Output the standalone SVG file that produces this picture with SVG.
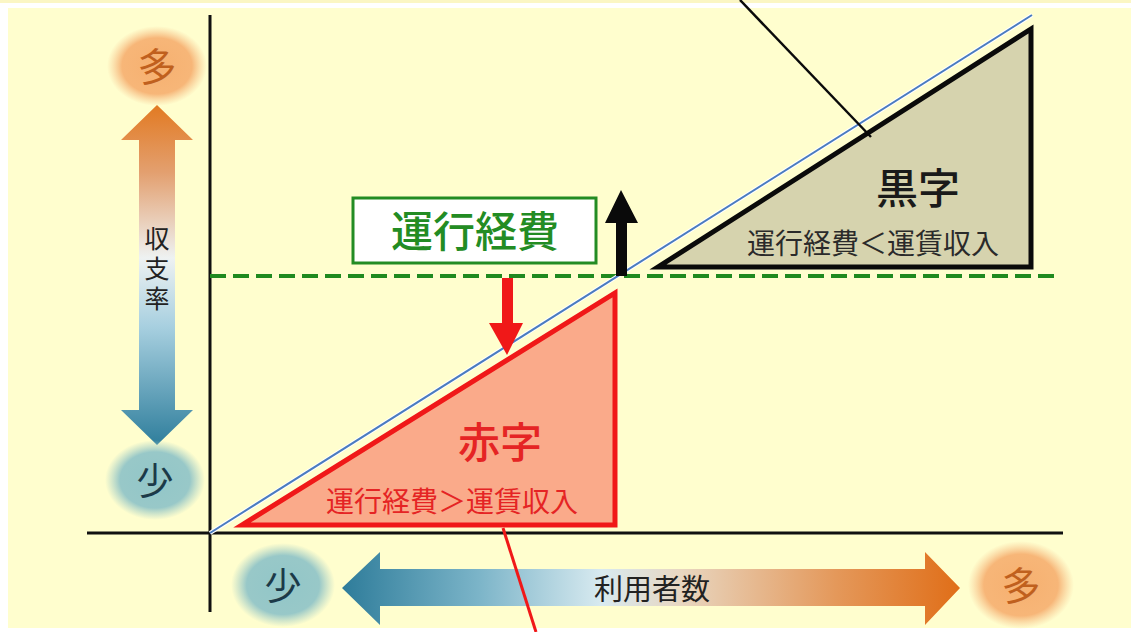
<svg xmlns="http://www.w3.org/2000/svg" width="1131" height="632" viewBox="0 0 1131 632">
<defs>
<style>
.jp{font-family:"Noto Sans CJK JP","Noto Sans CJK SC",sans-serif;font-weight:500;}
.sm{font-weight:400;}
.axis{stroke:#111;stroke-width:3;fill:none;}
</style>
<linearGradient id="gv" x1="0" y1="105" x2="0" y2="445" gradientUnits="userSpaceOnUse">
<stop offset="0" stop-color="#E27A22"/>
<stop offset="0.2" stop-color="#E3A070"/>
<stop offset="0.45" stop-color="#EEF2F2"/>
<stop offset="0.65" stop-color="#A8D0E0"/>
<stop offset="1" stop-color="#2F7E9C"/>
</linearGradient>
<linearGradient id="gh" x1="342" y1="0" x2="960" y2="0" gradientUnits="userSpaceOnUse">
<stop offset="0" stop-color="#2E7C9A"/>
<stop offset="0.22" stop-color="#7BB4C8"/>
<stop offset="0.42" stop-color="#D8EAF0"/>
<stop offset="0.55" stop-color="#E8D6C0"/>
<stop offset="0.8" stop-color="#E4985A"/>
<stop offset="1" stop-color="#E06E18"/>
</linearGradient>
<radialGradient id="go">
<stop offset="0" stop-color="#F6B070"/>
<stop offset="0.7" stop-color="#F7B678"/>
<stop offset="1" stop-color="#F7C490" stop-opacity="0"/>
</radialGradient>
<radialGradient id="gb">
<stop offset="0" stop-color="#92C6C8"/>
<stop offset="0.7" stop-color="#98C8C8"/>
<stop offset="1" stop-color="#A8D0C8" stop-opacity="0"/>
</radialGradient>
</defs>
<rect width="1131" height="632" fill="#FFFFFF"/>
<rect x="0" y="0" width="1131" height="3" fill="#FBF6C4"/>
<rect x="8" y="8" width="1123" height="620" fill="#FFFECE"/>

<g id="axes">
<line class="axis" x1="210" y1="15" x2="210" y2="612"/>
<line class="axis" x1="87" y1="533" x2="1063" y2="533"/>
</g>

<g id="y-arrow">
<path d="M157,105 L193,140 L175,140 L175,410 L193,410 L157,445 L121,410 L139,410 L139,140 L121,140 Z" fill="url(#gv)"/>
<text class="jp sm" x="157" y="226" font-size="25" fill="#222" writing-mode="vertical-rl" letter-spacing="5">収支率</text>
</g>

<g id="y-many">
<ellipse cx="157" cy="66" rx="50" ry="40" fill="url(#go)"/>
<text class="jp sm" x="157" y="81" font-size="39" fill="#C0601E" text-anchor="middle">多</text>
</g>
<g id="y-few">
<ellipse cx="155" cy="480" rx="50" ry="40" fill="url(#gb)"/>
<text class="jp sm" x="155" y="495" font-size="37" fill="#1C3A48" text-anchor="middle">少</text>
</g>

<g id="x-arrow">
<path d="M342,588 L380,552 L380,569 L925,569 L925,552 L960,588 L925,625 L925,606 L380,606 L380,625 Z" fill="url(#gh)"/>
<text class="jp sm" x="652" y="600" font-size="29" fill="#222" text-anchor="middle">利用者数</text>
</g>
<g id="x-few">
<ellipse cx="283" cy="585" rx="52" ry="42" fill="url(#gb)"/>
<text class="jp sm" x="283" y="600" font-size="37" fill="#1C3A48" text-anchor="middle">少</text>
</g>
<g id="x-many">
<ellipse cx="1021" cy="585" rx="53" ry="44" fill="url(#go)"/>
<text class="jp sm" x="1021" y="600" font-size="39" fill="#C0601E" text-anchor="middle">多</text>
</g>

<g id="cost-line">
<line x1="210" y1="276" x2="1054" y2="276" stroke="#1F8A1F" stroke-width="4" stroke-dasharray="16 7"/>
</g>

<g id="deficit">
<polygon points="615,293 615,525 242,525" fill="#FAAA8A" stroke="#F01818" stroke-width="5" stroke-linejoin="miter"/>
<text class="jp" x="500" y="458" font-size="42" fill="#E52424" text-anchor="middle">赤字</text>
<text class="jp sm" x="452" y="512" font-size="28" fill="#E52424" text-anchor="middle">運行経費＞運賃収入</text>
</g>

<g id="surplus">
<polygon points="1031,29 1031,267 658,267" fill="#D6D3AE" stroke="#0A0A0A" stroke-width="5" stroke-linejoin="miter"/>
<text class="jp" x="918" y="204" font-size="42" fill="#1A1A1A" text-anchor="middle">黒字</text>
<text class="jp sm" x="873" y="254" font-size="28" fill="#2A2A2A" text-anchor="middle">運行経費＜運賃収入</text>
</g>

<g id="revenue-line">
<line x1="210" y1="533" x2="1032" y2="15" stroke="#FFFFFF" stroke-width="4"/>
<line x1="210" y1="533" x2="1032" y2="15" stroke="#4A7CC0" stroke-width="2"/>
</g>

<g id="cost-box">
<rect x="353" y="198" width="243" height="65" fill="#FFFFFF" stroke="#238C23" stroke-width="3"/>
<text class="jp" x="475" y="247" font-size="42" fill="#238C23" text-anchor="middle">運行経費</text>
</g>

<g id="connectors">
<path d="M616,276 L616,223 L605,223 L621,190 L638,223 L627,223 L627,276 Z" fill="#0A0A0A"/>
<path d="M502,278 L513,278 L513,323 L523,323 L507,355 L489,323 L502,323 Z" fill="#F01818"/>
<line x1="740" y1="0" x2="871" y2="137" stroke="#0A0A0A" stroke-width="2.5"/>
<line x1="503" y1="528" x2="536" y2="632" stroke="#F01818" stroke-width="3"/>
</g>
</svg>
